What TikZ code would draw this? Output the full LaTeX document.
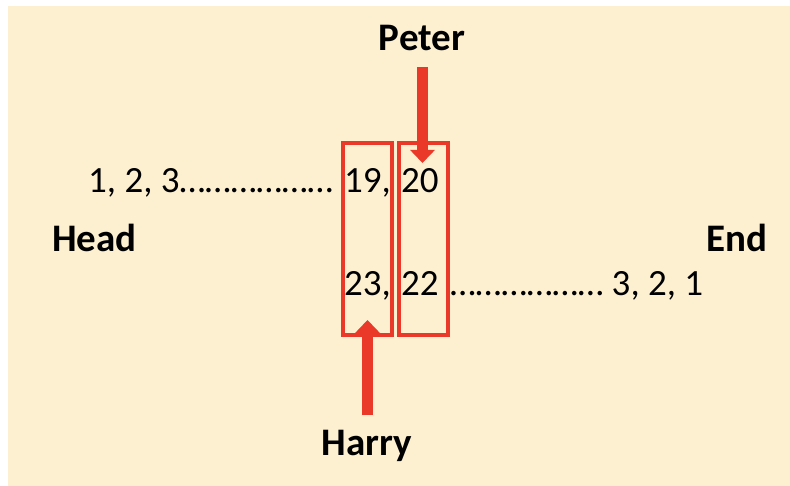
\documentclass[tikz,border=0pt]{standalone}
\usepackage{fontspec}
\setmainfont{Carlito}
\usetikzlibrary{arrows.meta}
\definecolor{bgbeige}{RGB}{252,240,208}
\definecolor{redline}{RGB}{234,57,40}
\begin{document}
\begin{tikzpicture}[x=1pt,y=-1pt,
  numtxt/.style={inner sep=0pt,font=\fontsize{37}{44}\selectfont},
  lbltxt/.style={inner sep=0pt,font=\fontsize{39}{46}\selectfont\bfseries},
  boxline/.style={draw=redline,line width=4pt},
  bigarrow/.style={draw=redline,line width=11pt,-{Triangle[width=24pt 0,length=13pt 0]}}]
\useasboundingbox (0,0) rectangle (790,486);
\fill[bgbeige] (8,6) rectangle (790,486);
% labels
\node[lbltxt,anchor=base] (peter) at (422,51) {Peter};
\node[lbltxt,anchor=base] (harry) at (367,455) {Harry};
\node[lbltxt,anchor=base west] (head) at (52,252) {Head};
\node[lbltxt,anchor=base east] (end) at (768,252) {End};
% row 1
\node[numtxt,anchor=base west] (r1a) at (88,193) {1, 2, 3………………};
\node[numtxt,anchor=base west] (r1b) at (344,193) {19,};
\node[numtxt,anchor=base west] (r1c) at (401,193) {20};
% row 2
\node[numtxt,anchor=base west] (r2a) at (344,296) {23,};
\node[numtxt,anchor=base west] (r2b) at (401,296) {22};
\node[numtxt,anchor=base west] (r2c) at (450,296) {……………… 3, 2, 1};
% boxes
\draw[boxline] (343,143) rectangle (392,335);
\draw[boxline] (399,143) rectangle (448,335);
% arrows
\coordinate (ptop) at (422.5,67);
\coordinate (ptip) at (422.5,163);
\coordinate (hbot) at (367.5,415);
\coordinate (htip) at (367.5,320);
\draw[bigarrow] (ptop) -- (ptip);
\draw[bigarrow] (hbot) -- (htip);
\end{tikzpicture}
\end{document}
